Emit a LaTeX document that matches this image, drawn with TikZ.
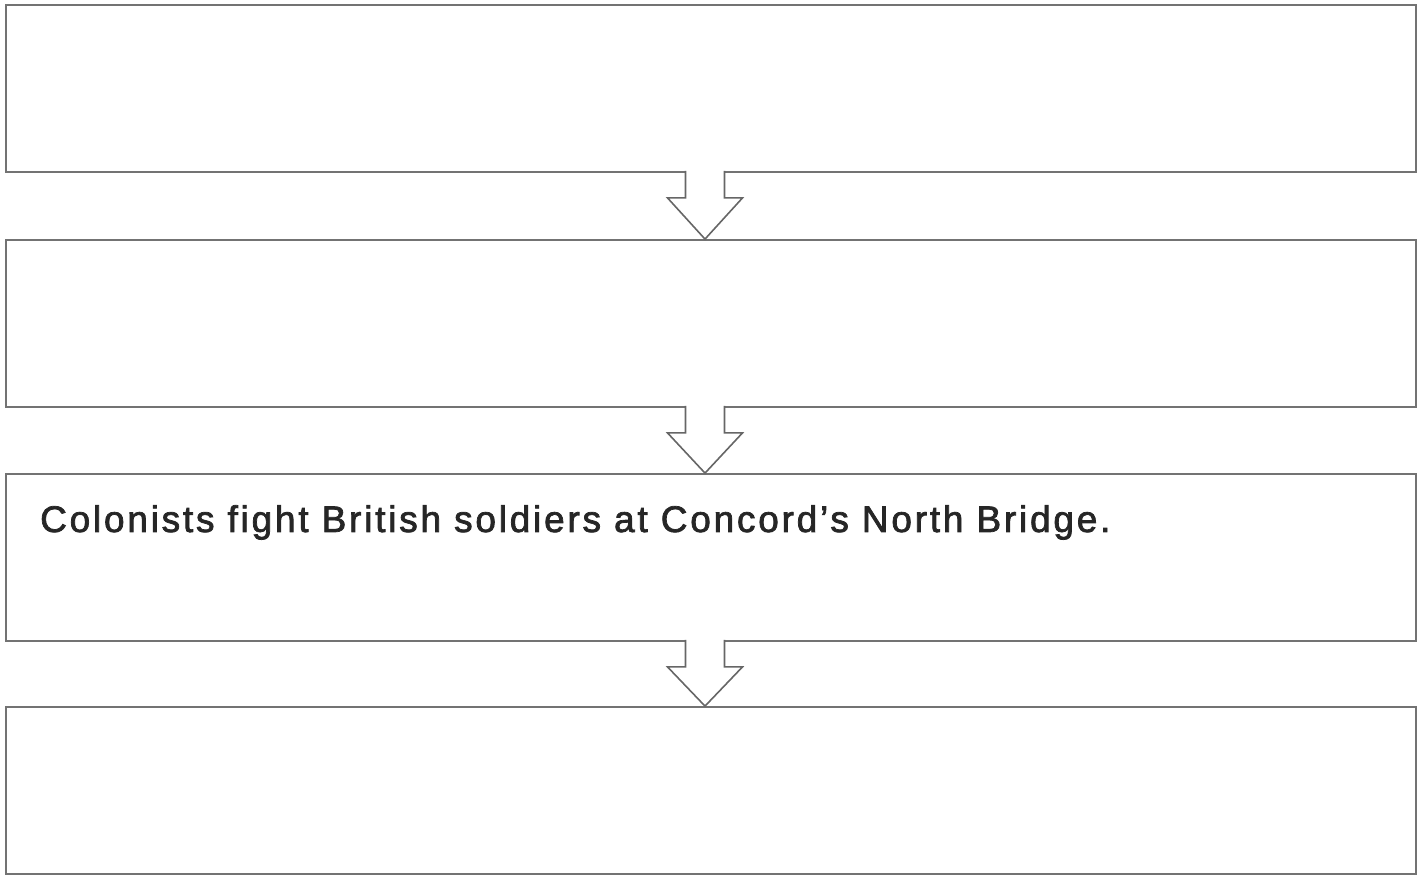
\documentclass[tikz,border=0pt]{standalone}
\usepackage{fontspec}
\setsansfont{Liberation Sans}
\newfontfamily\labelfont[LetterSpace=7.5, FakeBold=2]{Liberation Sans}
\usetikzlibrary{calc}

\begin{document}
\begin{tikzpicture}[x=1pt,y=1pt]
    \def\w{1410}
    \def\h{167}
    \useasboundingbox (0,0) rectangle (1424,875); % 画布大小
    \tikzset{box/.style={draw=black!55, line width=1.8pt, minimum width=\w pt, minimum height=\h pt, inner sep=0pt},
             hollow/.style={fill=white, draw=black!60, line width=1.6pt, line join=miter}}
    \node[box] (b1) at (711,786.5) {};
    \node[box] (b2) at (711,551.5) {};
    \node[box] (b3) at (711,317.5) {};
    \node[box] (b4) at (711,84.5) {};
    \node[anchor=base west, inner sep=0pt, text=black!85, font=\labelfont\fontsize{37}{40}\selectfont] (t3) at (40,343) {Colonists fight British soldiers at Concord’s North Bridge.}; % 第三个框里的文字
    \foreach \a/\b in {b1/b2,b2/b3,b3/b4} % 空心箭头
        \filldraw[hollow] ($(\a.south)+(-25.5,2)$) -- ($(\a.south)+(-25.5,-25)$) -- ($(\a.south)+(-43.5,-25)$) -- ($(\b.north)+(-6,0)$) -- ($(\a.south)+(31.5,-25)$) -- ($(\a.south)+(13.5,-25)$) -- ($(\a.south)+(13.5,2)$);
\end{tikzpicture}
\end{document}
